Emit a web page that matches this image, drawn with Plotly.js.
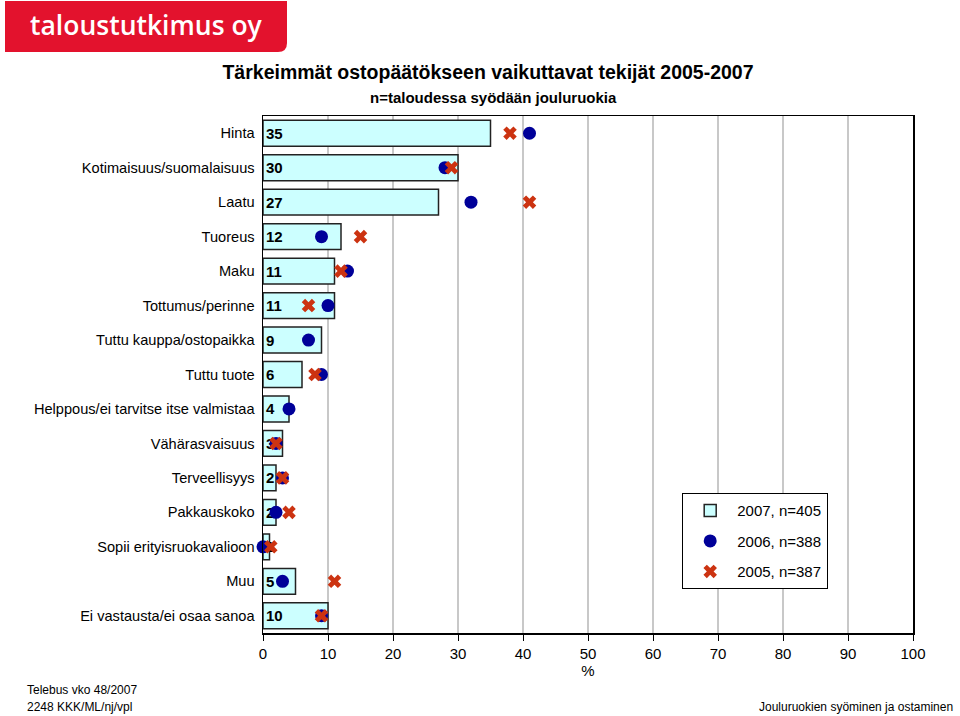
<!DOCTYPE html>
<html>
<head>
<meta charset="utf-8">
<script src="https://cdn.plot.ly/plotly-3.0.1.min.js"></script>
<style>html,body{margin:0;padding:0;background:#fff;}#chart{width:960px;height:716px;}</style>
</head>
<body>
<div id="chart"></div>
<script>
var categories = ['Hinta','Kotimaisuus/suomalaisuus','Laatu','Tuoreus','Maku','Tottumus/perinne','Tuttu kauppa/ostopaikka','Tuttu tuote','Helppous/ei tarvitse itse valmistaa','Vähärasvaisuus','Terveellisyys','Pakkauskoko','Sopii erityisruokavalioon','Muu','Ei vastausta/ei osaa sanoa'];
var v2007 = [35,30,27,12,11,11,9,6,4,3,2,2,1,5,10];
var v2006 = [41,28,32,9,13,10,7,9,4,2,3,2,0,3,9];
var v2005 = [38,29,41,15,12,7,null,8,null,2,3,4,1.2,11,9];
var seriesNames = ['2007, n=405','2006, n=388','2005, n=387'];
var xTicks = [0,10,20,30,40,50,60,70,80,90,100];

var FONT = 'Liberation Sans, Arial, sans-serif';

var traces = [
  {
    type:'bar', orientation:'h', y:categories, x:v2007, name:seriesNames[0],
    width:0.75,
    marker:{color:'#ccffff', line:{color:'#222222', width:1.5}},
    text:v2007.map(String), textposition:'inside', insidetextanchor:'start',
    textangle:0, constraintext:'none', cliponaxis:false,
    insidetextfont:{family:FONT, size:15, color:'#000', weight:700},
    legendgroup:'a', hoverinfo:'x+y'
  },
  {
    type:'scatter', mode:'markers', y:categories, x:v2006, name:seriesNames[1],
    marker:{symbol:'circle', size:13, color:'#000099'},
    cliponaxis:false, legendgroup:'b'
  },
  {
    type:'scatter', mode:'markers', y:categories, x:v2005, name:seriesNames[2],
    marker:{symbol:'x', size:12, color:'#cc3311', line:{width:0}},
    cliponaxis:false, legendgroup:'c'
  }
];

var L = 263, R = 913, T = 116, B = 633;
function px(xp){ return (xp - L)/(R - L); }
function py(yp){ return (B - yp)/(B - T); }

var rx = 9/(R-L), ry = 9/(B-T);
var lx0 = px(5), lx1 = px(287), ly0 = py(52), ly1 = py(1);
var logoPath = 'M'+lx0+','+ly1+' L'+lx1+','+ly1+' L'+lx1+','+(ly0+ry)+' Q'+lx1+','+ly0+' '+(lx1-rx)+','+ly0+' L'+lx0+','+ly0+' Z';

var layout = {
  width:960, height:716,
  margin:{l:L, r:960-R, t:T, b:716-B, pad:0},
  paper_bgcolor:'#fff', plot_bgcolor:'#fff',
  font:{family:FONT, size:14, color:'#000'},
  showlegend:true,
  title:{
    text:'Tärkeimmät ostopäätökseen vaikuttavat tekijät 2005-2007',
    font:{family:FONT, size:19.5, color:'#000', weight:700},
    x:488/960, xanchor:'center', xref:'container', yref:'container', y:1-72/716, yanchor:'middle'
  },
  xaxis:{
    range:[0,100], tickvals:xTicks, ticktext:xTicks.map(String),
    showgrid:true, gridcolor:'#c8c8c8', gridwidth:1.5, zeroline:false,
    showline:true, linecolor:'#000', linewidth:1.5, mirror:true,
    ticks:'outside', ticklen:6, tickcolor:'#000', tickwidth:1,
    tickfont:{family:FONT, size:15, color:'#000'},
    title:{text:'%', font:{family:FONT, size:15, color:'#000'}, standoff:4},
    fixedrange:true
  },
  yaxis:{
    type:'category', categoryorder:'array', categoryarray:categories,
    range:[categories.length-0.5, -0.5],
    showgrid:false, zeroline:false, showline:true, linecolor:'#000', linewidth:1.5, mirror:true,
    ticks:'', ticklabelstandoff:4,
    tickfont:{family:FONT, size:14.6, color:'#000'},
    fixedrange:true
  },
  legend:{
    x:px(682), y:py(493), xanchor:'left', yanchor:'top',
    bgcolor:'#fff', bordercolor:'#000', borderwidth:1.2,
    font:{family:FONT, size:15, color:'#000'},
    traceorder:'grouped', tracegroupgap:8, itemwidth:44
  },
  shapes:[
    {type:'path', xref:'paper', yref:'paper', path:logoPath, fillcolor:'#e3122d', line:{width:0}, layer:'above'}
  ],
  annotations:[
    {xref:'paper', yref:'paper', x:px(146), y:py(25), text:'taloustutkimus oy', showarrow:false,
     xanchor:'center', yanchor:'middle', font:{family:'Open Sans, sans-serif', size:26.5, color:'#fff', weight:600}},
    {xref:'paper', yref:'paper', x:px(493), y:py(98), text:'n=taloudessa syödään jouluruokia', showarrow:false,
     xanchor:'center', yanchor:'middle', font:{family:FONT, size:15, color:'#000', weight:700}},
    {xref:'paper', yref:'paper', x:px(25), y:py(690), text:'Telebus vko 48/2007', showarrow:false,
     xanchor:'left', yanchor:'middle', font:{family:FONT, size:12, color:'#000'}},
    {xref:'paper', yref:'paper', x:px(25), y:py(707), text:'2248 KKK/ML/nj/vpl', showarrow:false,
     xanchor:'left', yanchor:'middle', font:{family:FONT, size:12, color:'#000'}},
    {xref:'paper', yref:'paper', x:px(955), y:py(707), text:'Jouluruokien syöminen ja ostaminen', showarrow:false,
     xanchor:'right', yanchor:'middle', font:{family:FONT, size:12, color:'#000'}}
  ]
};

Plotly.newPlot('chart', traces, layout, {displayModeBar:false, staticPlot:true});
</script>
</body>
</html>
